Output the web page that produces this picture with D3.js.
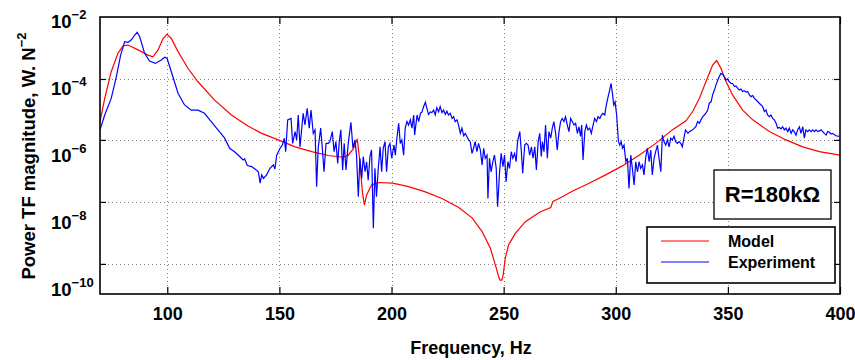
<!DOCTYPE html>
<html>
<head>
<meta charset="utf-8">
<script src="https://cdn.jsdelivr.net/npm/d3@7"></script>
<style>
  body { margin: 0; background: #fff; }
  text { font-family: "Liberation Sans", Arial, Helvetica, sans-serif; font-weight: bold; fill: #000; }
</style>
</head>
<body>
<script>
// ---- data (log10 of power TF magnitude) ----
const modelFreq = [70, 72.1, 75, 78, 80.3, 82.5, 87, 91.4, 93.6, 95.9, 98.1, 99.9, 101.8, 104.8, 109.2, 113.7,
  121.1, 128.6, 136, 142.1, 149.5, 157, 164.4, 171.8, 178.5, 180.7, 183, 184.7, 185.9, 187, 187.9, 188.9,
  191.1, 194.1, 200.5, 207.6, 215.1, 222.5, 230, 235.9, 240.4, 244.1, 246.3, 247.8, 248.4, 249.2, 249.8,
  250.7, 252.2, 255.2, 259.7, 266, 271, 272, 274.7, 280.6, 288.1, 295.5, 302.9, 310.4, 317.8, 325.2, 331.3,
  334.3, 337.3, 340.2, 343.2, 345, 346.9, 349.2, 352.1, 356.6, 361.1, 368.5, 375.9, 383.4, 390.8, 400];
const modelLog = [-5.03, -4.35, -3.58, -3.05, -2.83, -2.81, -2.95, -3.1, -3.15, -2.95, -2.62, -2.5, -2.62, -3.0, -3.48, -3.87,
  -4.4, -4.83, -5.15, -5.36, -5.55, -5.75, -5.89, -6.0, -6.05, -5.99, -5.8, -5.52, -6.18, -7.05, -7.43, -7.14,
  -6.85, -6.78, -6.8, -6.9, -7.05, -7.24, -7.5, -7.8, -8.2, -8.68, -9.16, -9.5, -9.6, -9.6, -9.45,
  -8.97, -8.58, -8.25, -7.91, -7.64, -7.5, -7.33, -7.24, -7.03, -6.8, -6.56, -6.3, -5.99, -5.65, -5.26, -5.0,
  -4.73, -4.35, -3.87, -3.39, -3.26, -3.48, -3.87, -4.25, -4.69, -4.97, -5.31, -5.55, -5.75, -5.89, -5.99];

const expFreq = [70, 72.1, 75, 77.3, 79.2, 81, 82.5, 84, 85.5, 86.6, 87.7, 89.9, 92.1, 94.7, 97.3, 98.9, 99.9,
  101.8, 104.8, 107.7, 110.7, 113.7, 116.6, 119.6, 122.6, 125.6, 127.8, 130, 132.3, 133.8, 134.5, 135.7,
  137.6, 139.1, 140.6, 141.4, 142.1, 142.9, 144.3, 145.8, 147.3, 148, 148.8, 150.3, 151.3, 152.2, 152.8,
  153.7, 155.2, 155.9, 157, 157.7, 158.4, 159.2, 160.6, 161.4, 162.4, 163.3, 164.1, 165.1, 165.9, 166.6,
  167.3, 168.4, 169.1, 169.9, 170.8, 171.8, 172.5, 173.6, 174.4, 175.2, 176, 176.7, 177.4, 178.2, 178.9,
  179.7, 180.7, 181.9, 182.8, 183.7, 184.4, 185.2, 185.9, 186.7, 187.4, 188.2, 188.9, 189.6, 190.4, 191.1,
  191.9, 192.6, 193.3, 194.1, 194.9, 195.6, 196.3, 197.1, 197.8, 198.6, 199.3, 200.1, 201.1, 201.7, 202.4,
  203.2, 203.9, 204.6, 205.4, 206.1, 206.9, 207.6, 208.4, 209.1, 209.9, 210.3, 211.4, 212.1, 212.9, 213.6,
  214.3, 215.1, 215.8, 216.5, 217.3, 218, 218.8, 219.5, 220.2, 221, 221.7, 222.5, 223.2, 224, 224.7, 225.4,
  226.2, 227, 227.7, 228.4, 229.2, 229.9, 230.7, 231.4, 232.2, 232.9, 233.6, 234.4, 235.1, 235.9, 236.6,
  237.3, 238.1, 238.8, 239.6, 240.4, 241.1, 241.8, 242.6, 243, 243.7, 244.4, 245.2, 245.9, 246.7, 247.3,
  248.2, 248.9, 249.7, 250.4, 251.1, 251.9, 252.6, 253.4, 254.1, 254.9, 255.6, 256.2, 257.2, 257.9, 258.5,
  259.4, 260.1, 260.9, 261.6, 262.4, 263.1, 263.9, 264.6, 265.4, 266.1, 266.8, 267.3, 268, 268.7, 269.5,
  270.2, 271, 271.7, 272.4, 273.2, 273.9, 274.7, 275.4, 276.1, 276.9, 277.6, 278.4, 279.1, 279.9, 280.6,
  281.4, 282.1, 282.9, 283.6, 284.3, 284.8, 285.4, 286.2, 286.9, 287.6, 288.4, 289.1, 289.9, 290.6, 291.4,
  292.1, 292.9, 293.6, 294.3, 295.1, 295.8, 296.6, 297.3, 297.9, 298.5, 299.1, 299.7, 300.4, 301.2, 301.8,
  302.4, 303, 303.7, 304.5, 305.2, 305.9, 306.7, 307.4, 308.2, 308.9, 309.7, 310.4, 311.1, 311.9, 312.6,
  313.4, 314.1, 314.9, 315.6, 316.3, 317.1, 317.8, 318.6, 319.3, 320.1, 320.8, 321.5, 322.3, 323, 323.8,
  324.5, 325.2, 326, 326.7, 327.5, 328.2, 329, 329.7, 330.4, 331.1, 332.2, 332.8, 334.3, 335.7, 336.5,
  337.3, 338, 338.8, 339.5, 340.2, 341, 341.7, 342.5, 343.2, 344, 344.7, 345.5, 346.2, 346.9, 347.7, 348.4,
  349.2, 349.9, 350.6, 351.4, 352.1, 352.9, 353.6, 354.4, 355.1, 355.8, 356.6, 357.3, 358.1, 358.8, 359.6,
  360.3, 361.1, 361.8, 362.5, 363.3, 364, 364.8, 365.5, 366.3, 367, 367.7, 368.5, 369.2, 370, 370.7, 371.5,
  372.2, 372.9, 373.7, 374.4, 375.2, 375.9, 376.7, 377.4, 378.2, 378.9, 379.6, 380.4, 381.1, 381.9, 382.6,
  383.4, 384.1, 384.8, 385.6, 386.3, 387.1, 387.8, 388.6, 389.3, 390.1, 390.8, 391.5, 392.3, 393, 393.8,
  394.5, 395.3, 396, 396.7, 398.2, 399.5];
const expLog = [-5.26, -4.83, -4.35, -3.72, -3.1, -2.71, -2.73, -2.66, -2.52, -2.44, -2.57, -3.05, -3.27, -3.34, -3.24, -3.16, -3.19,
  -3.58, -4.2, -4.54, -4.69, -4.69, -4.78, -5.02, -5.26, -5.5, -5.79, -5.89, -6.03, -6.13, -6.1, -6.29,
  -6.32, -6.39, -6.47, -6.8, -6.56, -6.66, -6.56, -6.37, -6.27, -6.39, -5.99, -5.79, -5.7, -5.5, -5.89,
  -4.97, -4.93, -5.65, -5.31, -5.55, -4.83, -5.75, -4.78, -5.12, -4.64, -5.21, -4.69, -5.36, -5.26, -6.9,
  -5.79, -5.21, -5.75, -6.47, -5.65, -5.65, -5.6, -5.31, -5.89, -5.6, -6.23, -5.6, -5.26, -6.42, -5.65,
  -6.42, -5.65, -5.04, -5.79, -5.55, -6.0, -7.19, -6.08, -6.66, -6.03, -6.47, -6.18, -6.71, -6.03, -5.84,
  -8.1, -6.37, -7.19, -6.37, -5.75, -6.47, -5.79, -5.6, -6.47, -5.75, -5.65, -6.08, -5.7, -5.99, -5.5,
  -5.07, -5.65, -5.55, -5.99, -5.21, -5.02, -5.12, -4.97, -5.21, -4.83, -5.41, -4.83, -5.02, -4.78, -4.74,
  -4.59, -4.46, -4.64, -4.81, -4.74, -4.76, -4.69, -4.83, -4.62, -4.74, -4.59, -4.76, -4.69, -4.81, -4.72, -4.83,
  -4.78, -4.93, -4.88, -5.02, -4.97, -5.12, -5.36, -5.21, -5.43, -5.36, -5.45, -5.55, -5.6, -5.94, -5.79,
  -5.6, -5.89, -5.65, -5.84, -6.27, -5.79, -6.08, -5.99, -7.24, -6.08, -6.47, -6.18, -5.99, -6.37, -7.48,
  -6.47, -5.94, -6.32, -5.99, -6.76, -6.18, -6.37, -5.89, -6.08, -5.94, -6.18, -5.6, -5.31, -5.89, -6.51,
  -5.7, -5.65, -5.7, -5.99, -5.75, -6.08, -5.75, -6.42, -5.6, -5.36, -6.03, -5.6, -5.89, -5.12, -6.08,
  -5.31, -5.5, -5.21, -5.02, -5.36, -5.84, -5.31, -5.02, -4.93, -5.02, -4.88, -5.12, -5.31, -4.93, -5.02,
  -5.12, -5.07, -5.36, -5.17, -5.45, -5.12, -6.13, -5.31, -5.12, -5.26, -5.21, -5.36, -5.12, -4.93, -5.02,
  -4.88, -4.93, -4.83, -4.78, -4.83, -4.54, -4.3, -4.11, -3.92, -4.2, -4.54, -4.45, -4.83, -5.6, -5.7,
  -5.6, -5.79, -5.7, -6.18, -6.08, -6.95, -5.99, -6.37, -6.85, -6.18, -6.47, -6.18, -6.37, -6.27, -6.56,
  -6.03, -5.79, -6.18, -5.84, -6.56, -6.08, -5.89, -5.7, -6.08, -6.47, -5.41, -5.6, -5.7, -5.55, -5.75,
  -5.5, -5.55, -5.45, -5.6, -5.65, -5.6, -5.65, -5.75, -5.5, -5.26, -5.36, -5.31, -5.26, -5.17, -5.02,
  -5.07, -4.97, -4.88, -4.83, -4.78, -4.69, -4.49, -4.45, -4.25, -4.11, -3.96, -3.82, -3.72, -3.63, -3.66, -3.72,
  -3.82, -3.79, -3.87, -3.92, -3.92, -4.01, -3.99, -4.06, -4.11, -4.08, -4.15, -4.13, -4.17, -4.15, -4.25,
  -4.3, -4.27, -4.35, -4.39, -4.44, -4.49, -4.54, -4.59, -4.73, -4.69, -4.83, -4.88, -4.83, -4.93, -4.97, -5.07,
  -5.21, -5.19, -5.23, -5.17, -5.26, -5.21, -5.31, -5.21, -5.36, -5.26, -5.31, -5.41, -5.26, -5.17, -5.36,
  -5.17, -5.5, -5.26, -5.31, -5.26, -5.31, -5.26, -5.31, -5.26, -5.31, -5.29, -5.26, -5.31, -5.36, -5.41,
  -5.31, -5.33, -5.38, -5.36, -5.43, -5.45];

const xTicks = [100, 150, 200, 250, 300, 350, 400];
const yLabelExp = [-2, -4, -6, -8, -10];
const yGridExp = [-3.79, -5.55, -7.34, -9.13];
const seriesNames = ["Model", "Experiment"];
const seriesColors = ["#ff0000", "#0000ff"];
const annotation = "R=180k\u03A9";

// ---- layout ----
const width = 855, height = 360;
const plot = { left: 100, top: 17, right: 840, bottom: 294 };

const svg = d3.select("body").append("svg")
  .attr("width", width)
  .attr("height", height);

const x = d3.scaleLinear().domain([70, 400]).range([plot.left, plot.right]);
const y = d3.scaleLog().domain([1e-10, 1e-2]).range([plot.bottom, plot.top]);
// tick labels of the original sit slightly off the ticks; baseline scale for them
const yLab = d3.scaleLog().domain([1e-10, 1e-2]).range([296, 28]);

svg.append("defs").append("clipPath").attr("id", "clip")
  .append("rect")
  .attr("x", plot.left).attr("y", plot.top)
  .attr("width", plot.right - plot.left).attr("height", plot.bottom - plot.top);

// grid
const grid = svg.append("g").attr("stroke", "#808080").attr("stroke-width", 1).attr("stroke-dasharray", "1,3");
grid.selectAll("line.v").data(xTicks.filter(d => d < 400)).join("line")
  .attr("class", "v")
  .attr("x1", d => Math.round(x(d)) + 0.5).attr("x2", d => Math.round(x(d)) + 0.5)
  .attr("y1", plot.top).attr("y2", plot.bottom);
grid.selectAll("line.h").data(yGridExp).join("line")
  .attr("class", "h")
  .attr("x1", plot.left).attr("x2", plot.right)
  .attr("y1", d => Math.round(y(10 ** d)) + 0.5).attr("y2", d => Math.round(y(10 ** d)) + 0.5);

// series
const line = d3.line().x(d => x(d[0])).y(d => y(10 ** d[1]));
const modelData = modelFreq.map((f, i) => [f, modelLog[i]]);
const expData = expFreq.map((f, i) => [f, expLog[i]]);

const lines = svg.append("g").attr("clip-path", "url(#clip)").attr("fill", "none");
lines.append("path").datum(modelData)
  .attr("stroke", seriesColors[0]).attr("stroke-width", 1.2).attr("d", line);
lines.append("path").datum(expData)
  .attr("stroke", seriesColors[1]).attr("stroke-width", 1.2).attr("d", line);

// axes (ticks inward)
const tickVals = yGridExp.map(d => 10 ** d);
const axes = svg.append("g");
const gx = axes.append("g").attr("transform", `translate(0,${plot.bottom})`)
  .call(d3.axisBottom(x).tickValues(xTicks).tickSize(-7).tickPadding(13).tickFormat(d3.format("d")));
axes.append("g").attr("transform", `translate(0,${plot.top})`)
  .call(d3.axisTop(x).tickValues(xTicks).tickSize(-7).tickFormat(""));
axes.append("g").attr("transform", `translate(${plot.left},0)`)
  .call(d3.axisLeft(y).tickValues(tickVals).tickSize(-6).tickFormat(""));
axes.append("g").attr("transform", `translate(${plot.right},0)`)
  .call(d3.axisRight(y).tickValues(tickVals).tickSize(-6).tickFormat(""));
axes.selectAll(".domain").remove();
axes.selectAll(".tick line").attr("stroke", "#000").attr("stroke-width", 1.2);
gx.selectAll("text")
  .style("font-family", '"Liberation Sans", Arial, sans-serif')
  .style("font-weight", "bold").style("font-size", "18px").attr("fill", "#000");

svg.append("rect")
  .attr("x", plot.left).attr("y", plot.top)
  .attr("width", plot.right - plot.left).attr("height", plot.bottom - plot.top)
  .attr("fill", "none").attr("stroke", "#000").attr("stroke-width", 1.6);

// y tick labels 10^n
const yl = svg.append("g").selectAll("text").data(yLabelExp).join("text")
  .attr("x", 51).attr("y", d => yLab(10 ** d))
  .style("font-size", "18.5px");
yl.append("tspan").text("10");
yl.append("tspan").attr("dy", -9).style("font-size", "13px").text(d => "\u2212" + (-d));

// axis titles
svg.append("text")
  .attr("x", 471).attr("y", 354)
  .attr("text-anchor", "middle")
  .style("font-size", "18px")
  .text("Frequency, Hz");

const yt = svg.append("text")
  .attr("transform", "translate(35,156) rotate(-90)")
  .attr("text-anchor", "middle")
  .style("font-size", "18.5px");
yt.append("tspan").text("Power TF magnitude, W. N");
yt.append("tspan").attr("dy", -9).style("font-size", "13px").text("\u22122");

// annotation box
svg.append("rect")
  .attr("x", 714).attr("y", 170).attr("width", 117).attr("height", 49)
  .attr("fill", "#fff").attr("stroke", "#000").attr("stroke-width", 1.3);
svg.append("text")
  .attr("x", 772.5).attr("y", 202)
  .attr("text-anchor", "middle")
  .style("font-size", "22px")
  .text(annotation);

// legend
const legend = svg.append("g");
legend.append("rect")
  .attr("x", 647).attr("y", 227).attr("width", 188).attr("height", 56)
  .attr("fill", "#fff").attr("stroke", "#000").attr("stroke-width", 1.6);
const items = legend.selectAll("g.item").data(seriesNames).join("g")
  .attr("class", "item")
  .attr("transform", (d, i) => `translate(0,${241 + i * 21})`);
items.append("line")
  .attr("x1", 661).attr("x2", 709)
  .attr("stroke", (d, i) => seriesColors[i]).attr("stroke-width", 1.2);
items.append("text")
  .attr("x", 728).attr("y", 6)
  .style("font-size", "16px")
  .text(d => d);
</script>
</body>
</html>
